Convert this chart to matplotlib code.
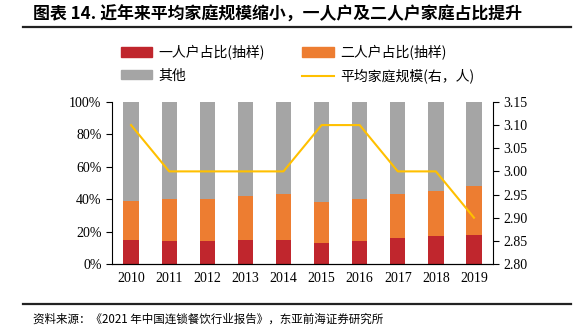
import numpy as np
import matplotlib
matplotlib.use("Agg")
import matplotlib.pyplot as plt
from matplotlib.lines import Line2D
from matplotlib.patches import Patch

plt.rcParams['font.family'] = ['Liberation Serif', 'Noto Sans CJK SC', 'DejaVu Sans']

years = ['2010', '2011', '2012', '2013', '2014', '2015', '2016', '2017', '2018', '2019']
one_person = [15, 14, 14, 15, 15, 13, 14, 16, 17, 18]
two_person = [24, 26, 26, 27, 28, 25, 26, 27, 28, 30]
others = [61, 60, 60, 58, 57, 62, 60, 57, 55, 52]
avg_size = [3.1, 3.0, 3.0, 3.0, 3.0, 3.1, 3.1, 3.0, 3.0, 2.9]

labels = ['一人户占比(抽样)', '二人户占比(抽样)', '其他', '平均家庭规模(右，人)']
c_red, c_orange, c_gray, c_yellow = '#C0262D', '#ED7D31', '#A5A5A5', '#FFC000'

fig = plt.figure(figsize=(5.78, 3.32), dpi=100)
ax = fig.add_axes([0.1938, 0.2048, 0.853 - 0.1938, 0.693 - 0.2048])

x = np.arange(len(years))
w = 0.4
one = np.array(one_person)
two = np.array(two_person)
ax.bar(x, one, w, color=c_red)
ax.bar(x, two, w, bottom=one, color=c_orange)
ax.bar(x, others, w, bottom=one + two, color=c_gray)
ax.set_xlim(-0.5, len(years) - 0.5)
ax.set_ylim(0, 100)
ax.set_yticks(range(0, 101, 20))
ax.set_yticklabels([f'{v}%' for v in range(0, 101, 20)])
ax.set_xticks(x)
ax.set_xticklabels(years)
ax.tick_params(axis='x', length=0, pad=6, labelsize=10)
ax.tick_params(axis='y', length=4, labelsize=10, direction='out')
ax.spines['top'].set_visible(False)
ax.spines['right'].set_visible(False)

ax2 = ax.twinx()
ax2.plot(x, avg_size, color=c_yellow, lw=1.5)
ax2.set_ylim(2.80, 3.15)
ax2.set_yticks(np.arange(2.80, 3.151, 0.05))
ax2.set_yticklabels([f'{v:.2f}' for v in np.arange(2.80, 3.151, 0.05)])
ax2.tick_params(axis='y', length=4, labelsize=10, direction='out')
ax2.spines['top'].set_visible(False)
ax2.spines['left'].set_visible(False)

handles = [Patch(color=c_red), Patch(color=c_orange), Patch(color=c_gray),
           Line2D([], [], color=c_yellow, lw=1.5)]
order = [0, 2, 1, 3]
leg = fig.legend([handles[i] for i in order], [labels[i] for i in order], ncol=2,
                 loc='upper left', bbox_to_anchor=(0.2093, 0.864), frameon=False,
                 prop={'family': ['Noto Sans CJK SC'], 'size': 10},
                 handlelength=2.25, handleheight=0.7, columnspacing=2.7,
                 labelspacing=0.6, handletextpad=0.45, borderpad=0, borderaxespad=0)

fig.text(0.057, 0.955, '图表 14. 近年来平均家庭规模缩小，一人户及二人户家庭占比提升',
         fontsize=12.2, fontweight='bold', family=['Noto Sans CJK SC'], va='center')
fig.add_artist(Line2D([0.04, 0.988], [0.92, 0.92], color='#222222', lw=1.6))
fig.add_artist(Line2D([0.04, 0.988], [0.084, 0.084], color='#222222', lw=1.6))
fig.text(0.057, 0.039, '资料来源：《2021 年中国连锁餐饮行业报告》，东亚前海证券研究所',
         fontsize=8.3, family=['Noto Sans CJK SC'], va='center')

fig.savefig('out.png', dpi=100)
